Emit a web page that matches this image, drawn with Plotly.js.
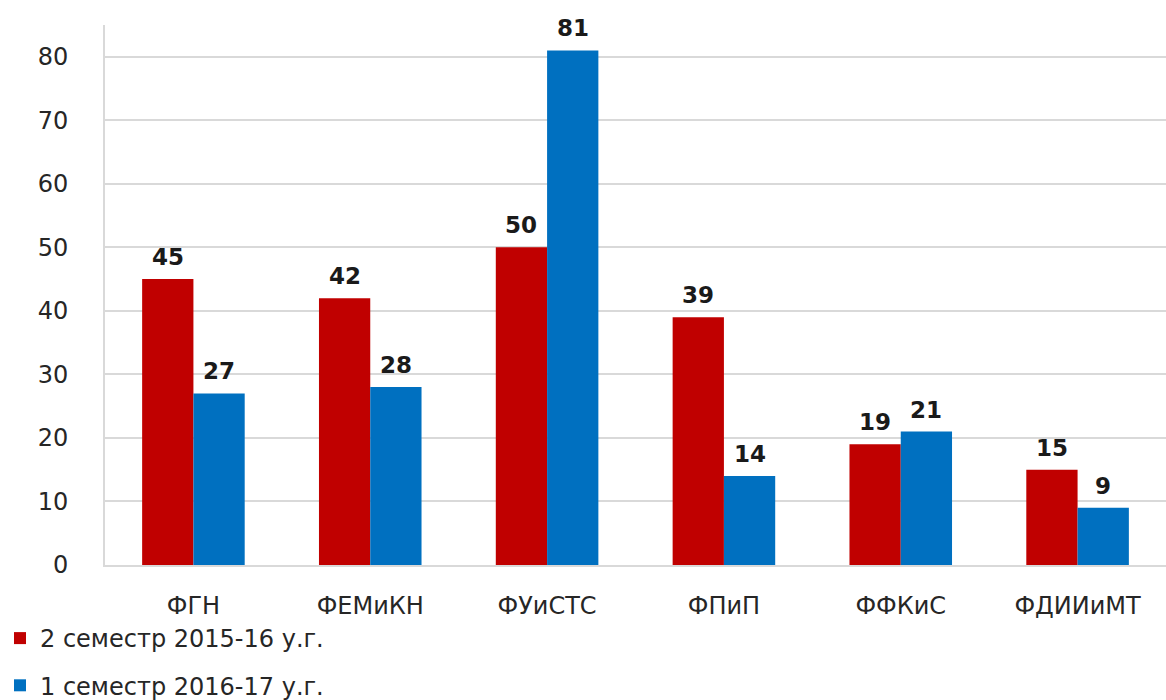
<!DOCTYPE html>
<html>
<head>
<meta charset="utf-8">
<script src="https://cdn.plot.ly/plotly-3.0.1.min.js"></script>
<style>html,body{margin:0;padding:0;background:#fff;}#chart{width:1166px;height:700px;}</style>
</head>
<body>
<div id="chart"></div>
<script>
const categories = ["ФГН", "ФЕМиКН", "ФУиСТС", "ФПиП", "ФФКиС", "ФДИИиМТ"];
const seriesNames = ["2 семестр 2015-16 у.г.", "1 семестр 2016-17 у.г."];
const values2015 = [45, 42, 50, 39, 19, 15];
const values2016 = [27, 28, 81, 14, 21, 9];
const yTicks = [0, 10, 20, 30, 40, 50, 60, 70, 80];

const font = "DejaVu Sans, Open Sans, sans-serif";
function trace(name, vals, color, group) {
  return {
    type: "bar", name: name, x: categories, y: vals,
    marker: {color: color}, hoverinfo: "x+y",
    legendgroup: group
  };
}
const data = [
  trace(seriesNames[0], values2015, "#C00000", "a"),
  trace(seriesNames[1], values2016, "#0070C0", "b")
];
function labels(vals, xshift) {
  return vals.map((v, i) => ({
    x: categories[i], y: v, xref: "x", yref: "y",
    text: String(v), showarrow: false, xanchor: "center", yanchor: "bottom",
    xshift: xshift, yshift: 7,
    font: {family: font, size: 23, color: "#1a1a1a", weight: "bold"}
  }));
}
const layout = {
  width: 1166, height: 700,
  margin: {l: 105, r: 0, t: 25, b: 135},
  paper_bgcolor: "#fff", plot_bgcolor: "#fff",
  barmode: "group", bargap: 0.42, bargroupgap: 0,
  font: {family: font, color: "#404040", size: 24},
  xaxis: {
    showline: true, linecolor: "#d9d9d9", linewidth: 2,
    ticks: "", ticklabelstandoff: 18,
    tickfont: {size: 24, color: "#262626"}
  },
  yaxis: {
    range: [0, 85], tickvals: yTicks, showgrid: true, gridcolor: "#d9d9d9", gridwidth: 2,
    showline: true, linecolor: "#d9d9d9", linewidth: 2, zeroline: false,
    ticks: "", ticklabelstandoff: 30,
    tickfont: {size: 24, color: "#262626"}
  },
  annotations: labels(values2015, -25.6).concat(labels(values2016, 25.6)),
  showlegend: true,
  legend: {
    orientation: "v", xref: "paper", yref: "container",
    x: -0.099, xanchor: "left", y: 0.12, yanchor: "top",
    traceorder: "grouped", tracegroupgap: 13,
    font: {size: 24, color: "#262626"}, itemwidth: 30
  }
};
Plotly.newPlot("chart", data, layout, {displayModeBar: false});
</script>
</body>
</html>
